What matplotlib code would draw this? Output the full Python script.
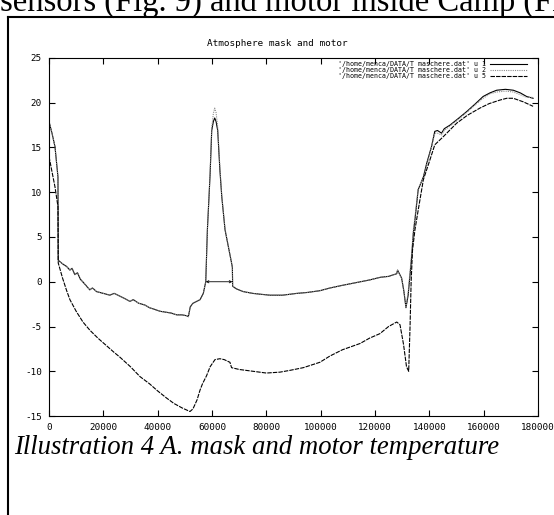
import numpy as np
import matplotlib
matplotlib.use("Agg")
import matplotlib.pyplot as plt
from matplotlib.lines import Line2D

plt.rcParams['axes.unicode_minus'] = False

# sample times (in thousands) for the two mask sensors
t_mask = [0.0, 1.1, 2.2, 3.3, 3.4, 5.0, 6.5, 7.7, 8.5, 9.5,
          10.5, 11.5, 13.0, 15.0, 16.0, 17.5, 20.0, 22.4, 24.0, 26.0,
          28.0, 29.8, 31.0, 33.0, 35.3, 37.0, 39.0, 40.9, 43.0, 45.0,
          47.0, 49.0, 50.7, 51.3, 52.0, 53.0, 55.6, 56.8, 57.7, 58.3,
          58.9, 59.3, 59.9, 60.5, 61.0, 61.5, 62.1, 62.9, 63.6, 64.8,
          67.2, 67.5, 67.6, 69.0, 71.5, 75.0, 78.0, 81.3, 86.0, 91.2,
          95.0, 99.7, 103.4, 108.0, 113.0, 118.0, 122.0, 125.0, 128.0, 128.3,
          129.8, 130.6, 131.4, 132.2, 133.5, 134.1, 134.7, 135.9, 137.8, 139.0,
          140.8, 142.0, 143.0, 144.5, 145.5, 147.6, 150.5, 153.7, 157.0, 159.8,
          162.3, 164.8, 168.0, 170.9, 173.5, 175.8, 178.2]

u1 = [17.9, 16.6, 15.1, 11.7, 2.4, 2.0, 1.7, 1.3, 1.5, 0.8,
      1.0, 0.3, -0.2, -0.9, -0.7, -1.1, -1.3, -1.5, -1.3, -1.6,
      -1.9, -2.2, -2.0, -2.4, -2.6, -2.9, -3.1, -3.3, -3.4, -3.5,
      -3.7, -3.7, -3.8, -3.9, -2.8, -2.4, -2.0, -1.3, 0.0, 5.8,
      9.5, 12.0, 16.9, 17.9, 18.3, 17.9, 16.9, 12.5, 9.5, 5.8,
      2.1, 1.6, -0.5, -0.8, -1.1, -1.3, -1.4, -1.5, -1.5, -1.3,
      -1.2, -1.0, -0.7, -0.4, -0.1, 0.2, 0.5, 0.6, 0.9, 1.3,
      0.4, -1.0, -2.9, -1.5, 2.8, 5.4, 6.9, 10.3, 11.7, 13.2,
      15.1, 16.8, 16.9, 16.6, 17.1, 17.5, 18.2, 19.0, 19.9, 20.7,
      21.1, 21.4, 21.5, 21.4, 21.1, 20.7, 20.5]

u2 = [17.9, 16.6, 15.1, 11.7, 2.4, 2.0, 1.7, 1.3, 1.5, 0.8,
      1.0, 0.3, -0.2, -0.9, -0.7, -1.1, -1.3, -1.5, -1.3, -1.6,
      -1.9, -2.2, -2.0, -2.4, -2.6, -2.9, -3.1, -3.3, -3.4, -3.5,
      -3.7, -3.7, -3.8, -3.9, -2.8, -2.4, -2.0, -1.3, 0.0, 5.8,
      9.5, 12.2, 17.2, 18.8, 19.4, 18.9, 17.3, 12.8, 9.6, 5.9,
      2.1, 1.6, -0.5, -0.8, -1.1, -1.3, -1.4, -1.5, -1.5, -1.3,
      -1.2, -1.0, -0.7, -0.4, -0.1, 0.2, 0.5, 0.6, 0.9, 1.3,
      0.4, -1.0, -2.8, -1.2, 3.2, 5.8, 7.2, 10.4, 11.6, 13.0,
      15.0, 16.6, 16.6, 16.4, 16.9, 17.4, 18.1, 18.9, 19.8, 20.5,
      21.0, 21.2, 21.3, 21.2, 20.9, 20.6, 20.6]

# motor sensor
t_motor = [0.0, 1.1, 2.2, 3.3, 3.4, 5.0, 6.5, 7.7, 10.0, 12.5,
           15.0, 18.0, 21.0, 24.0, 26.0, 30.0, 33.5, 37.0, 40.0, 43.3,
           46.0, 49.0, 51.9, 53.0, 54.5, 55.6, 56.5, 58.0, 59.3, 61.1,
           62.9, 64.5, 66.6, 67.2, 70.0, 75.0, 80.0, 85.0, 88.7, 93.6,
           99.7, 103.4, 108.0, 114.5, 118.0, 121.8, 125.0, 128.0, 129.2, 130.5,
           131.6, 132.4, 132.9, 133.3, 133.8, 134.7, 135.9, 137.8, 140.2, 142.0,
           145.1, 150.0, 154.0, 158.6, 162.0, 166.0, 168.5, 170.9, 174.6, 178.2]

u5 = [14.0, 12.3, 10.6, 8.4, 2.1, 0.4, -1.0, -2.0, -3.3, -4.5,
      -5.4, -6.3, -7.1, -7.9, -8.4, -9.5, -10.6, -11.4, -12.2, -13.0,
      -13.6, -14.1, -14.5, -14.2, -13.2, -12.1, -11.4, -10.5, -9.5, -8.7,
      -8.6, -8.7, -9.0, -9.6, -9.8, -10.0, -10.2, -10.1, -9.9, -9.6,
      -9.0, -8.3, -7.6, -6.9, -6.3, -5.8, -5.0, -4.5, -4.8, -7.0,
      -9.5, -10.0, -5.0, 0.0, 3.5, 5.8, 8.0, 11.4, 13.6, 15.3,
      16.2, 17.7, 18.6, 19.4, 19.9, 20.3, 20.5, 20.5, 20.1, 19.6]

x_ticks = [0, 20000, 40000, 60000, 80000, 100000, 120000, 140000, 160000, 180000]
y_ticks = [-15, -10, -5, 0, 5, 10, 15, 20, 25]
legend_labels = ["'/home/menca/DATA/T maschere.dat' u 1",
                 "'/home/menca/DATA/T maschere.dat' u 2",
                 "'/home/menca/DATA/T maschere.dat' u 5"]
gap_start, gap_end = 57700, 67500

title = "Atmosphere mask and motor"
caption = "Illustration 4 A. mask and motor temperature"
header = "sensors (Fig. 9) and motor inside Camp (Fig"

W, H = 554, 515
mono = 'DejaVu Sans Mono'


def fx(px):
    return px / W


def fy(py):
    return 1 - py / H


fig = plt.figure(figsize=(W / 100, H / 100), dpi=100)

# page frame and text around the plot
fig.add_artist(Line2D([fx(8), fx(8)], [0, fy(17)], color='black', lw=1.5))
fig.add_artist(Line2D([fx(8), 1], [fy(17), fy(17)], color='black', lw=1.5))
fig.text(fx(0), fy(11), header, family='Liberation Serif', size=23.5,
         va='baseline', ha='left')
fig.text(fx(14), fy(453.5), caption, family='Liberation Serif', style='italic',
         size=19.3, va='baseline', ha='left')

ax = fig.add_axes([fx(49), fy(416), (538 - 49) / W, (416 - 58) / H])

styles = [dict(color='black', lw=0.8, ls='-'),
          dict(color='#8c8c8c', lw=0.8, ls=(0, (1, 1))),
          dict(color='black', lw=0.8, ls=(0, (4, 1)))]

ax.plot(np.array(t_mask) * 1000, u1, **styles[0])
ax.plot(np.array(t_mask) * 1000, u2, **styles[1])
ax.plot(np.array(t_motor) * 1000, u5, **styles[2])

ax.annotate('', xy=(gap_end, 0), xytext=(gap_start, 0),
            arrowprops=dict(arrowstyle='<->', color='black', lw=0.6,
                            mutation_scale=4, shrinkA=0, shrinkB=0))

ax.set_xlim(0, 180000)
ax.set_ylim(-15, 25)
ax.set_xticks(x_ticks)
ax.set_xticklabels([str(v) for v in x_ticks], family=mono)
ax.set_yticks(y_ticks)
ax.set_yticklabels([str(v) for v in y_ticks], family=mono)
ax.tick_params(direction='in', length=4, width=0.8, top=True, right=True,
               labelsize=6.7, pad=5)
for s in ax.spines.values():
    s.set_linewidth(0.8)

fig.text(fx(277), fy(44), title, family=mono, size=6.7, ha='center', va='center')

# gnuplot-style key, text right-aligned with the sample on its right
for i, lab in enumerate(legend_labels):
    y = fy(64.3 + 5.7 * i)
    fig.text(fx(486.5), y, lab, family=mono, size=4.8, ha='right', va='center')
    fig.add_artist(Line2D([fx(490), fx(527)], [y, y], **styles[i]))

fig.savefig('out.png', dpi=100)
